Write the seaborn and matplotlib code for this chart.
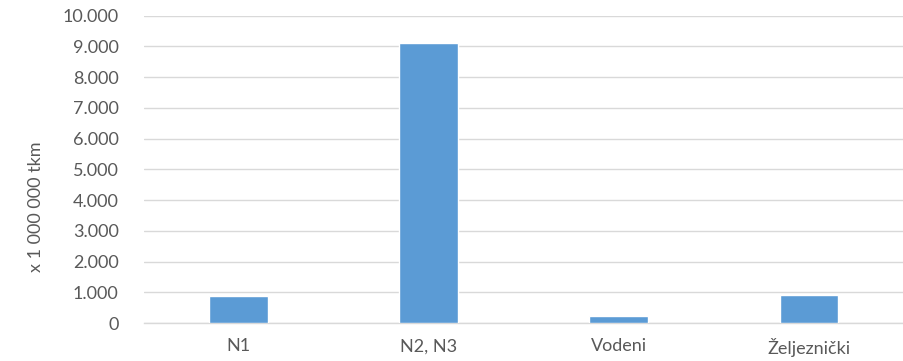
import matplotlib
matplotlib.use("Agg")
import matplotlib.pyplot as plt
import seaborn as sns
import pandas as pd
from matplotlib.ticker import FuncFormatter, MultipleLocator

categories = ["N1", "N2, N3", "Vodeni", "Željeznički"]
values = [890, 9120, 220, 900]
y_label = "x 1 000 000 tkm"

df = pd.DataFrame({"kategorija": categories, "vrijednost": values})

sns.set_theme(style="white")
plt.rcParams["font.family"] = ["Lato", "DejaVu Sans"]

fig = plt.figure(figsize=(9.04, 3.61), dpi=100)
ax = fig.add_axes([0.159, 0.105, 0.841, 0.8515])

sns.barplot(data=df, x="kategorija", y="vrijednost", color="#5B9BD5",
            width=0.31, saturation=1, ax=ax, zorder=3)

ax.set_xlim(-0.5, len(categories) - 0.5)
ax.set_ylim(0, 10000)
ax.yaxis.set_major_locator(MultipleLocator(1000))
ax.yaxis.set_major_formatter(FuncFormatter(lambda v, p: f"{int(v):,}".replace(",", ".")))
ax.grid(axis="y", color="#D9D9D9", linewidth=1, zorder=0)
ax.set_axisbelow(True)

for s in ["top", "right", "left"]:
    ax.spines[s].set_visible(False)
ax.spines["bottom"].set_color("#D9D9D9")
ax.spines["bottom"].set_linewidth(1)

ax.tick_params(axis="y", length=0, pad=18, labelsize=13, colors="#595959")
ax.tick_params(axis="x", length=0, pad=11, labelsize=13, colors="#595959")
ax.set_xlabel("")
ax.set_ylabel(y_label, fontsize=13, color="#595959")
ax.yaxis.set_label_coords(-0.131, 0.377)

fig.savefig("out.png", dpi=100)
